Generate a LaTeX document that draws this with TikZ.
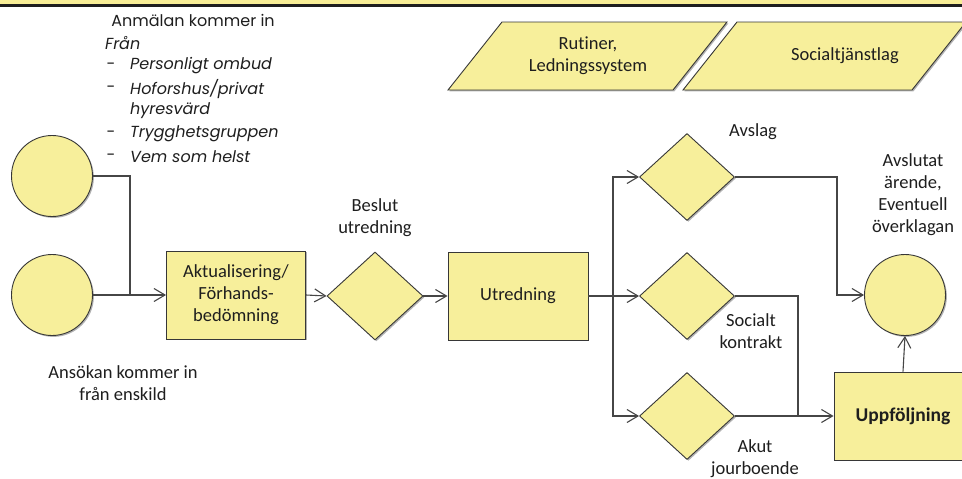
\documentclass[tikz,border=0pt]{standalone}
\usepackage{fontspec}
\setmainfont{Carlito}[Ligatures={NoCommon}]
\newfontfamily\geo{Poppins}
\usetikzlibrary{shapes.geometric,arrows.meta,shadows}
\definecolor{fillY}{RGB}{247,239,155}
\definecolor{edgeG}{RGB}{55,55,55}
\definecolor{lineG}{RGB}{70,70,70}
\definecolor{bandY}{RGB}{248,238,150}
\definecolor{bandD}{RGB}{30,30,30}
\definecolor{txt}{RGB}{30,30,30}

\begin{document}
\begin{tikzpicture}[x=1pt,y=-1pt,
  shp/.style={draw=edgeG, line width=0.9pt, fill=fillY,
    drop shadow={shadow xshift=1.4pt, shadow yshift=-1.4pt, opacity=0.3, fill=black}},
  roundel/.style={shp, circle, minimum size=81pt, inner sep=0pt},
  decision/.style={shp, diamond, minimum width=96pt, minimum height=88pt, inner sep=0pt},
  stepbox/.style={shp, rectangle, minimum width=139pt, minimum height=88pt,
    align=center, text=txt, font=\fontsize{18.5}{22}\selectfont},
  lbl/.style={align=center, text=txt, font=\fontsize{18.5}{22}\selectfont, inner sep=0pt},
  geotxt/.style={text=txt, font=\geo\fontsize{16}{22}\selectfont, inner sep=0pt},
  conn/.style={draw=lineG, line width=1.1pt},
  arr/.style={conn, -{Straight Barb[length=11pt, width=13pt]}}
]
\useasboundingbox (0,0) rectangle (962,479);
\clip (0,0) rectangle (962,479);
\fill[white] (0,0) rectangle (962,479);

% header band
\fill[bandY] (0,0) rectangle (962,3.5);
\fill[bandD] (0,3.5) rectangle (962,6.5);

% source text block
\node[geotxt] (anm) at (193,20) {Anmälan kommer in};
\node[geotxt, anchor=west] (fran) at (105,43) {\itshape Från};
\foreach \yy/\tt [count=\i] in {66/{Personligt ombud}, 89/{Hoforshus/privat}, 134/{Trygghetsgruppen}, 157/{Vem som helst}}{
  \node[geotxt] (dash\i) at (111,\yy) {-};
  \node[geotxt, anchor=west] (item\i) at (130,\yy) {\itshape \tt};
}
\node[geotxt, anchor=west] (item2b) at (130,111) {\itshape hyresvärd};

% guiding documents
\filldraw[shp] (502,22) -- (727,22) -- (673,90) -- (448,90) -- cycle;
\node[lbl] (rut) at (588,56) {Rutiner,\\Ledningssystem};
\filldraw[shp] (737,22) -- (966,22) -- (912,90) -- (683,90) -- cycle;
\node[lbl] (sol) at (845,56) {Socialtjänstlag};

% flow nodes
\node[roundel] (c1) at (52,176) {};
\node[roundel] (c2) at (52,295) {};
\node[lbl] (c2t) at (123,383) {Ansökan kommer in\\från enskild};

\node[stepbox] (akt) at (236,295) {Aktualisering/\\Förhands-\\bedömning};
\node[decision] (d1) at (375,296) {};
\node[lbl] (d1t) at (375,218) {Beslut\\utredning};
\node[stepbox, minimum width=140pt] (utr) at (518,296) {Utredning};

\node[decision, minimum width=95pt, minimum height=87pt] (dA) at (687,177) {};
\node[lbl] (dAt) at (753,132) {Avslag};
\node[decision, minimum width=95pt, minimum height=87pt] (dS) at (687,296) {};
\node[lbl] (dSt) at (751,331) {Socialt\\kontrakt};
\node[decision, minimum width=95pt, minimum height=87pt] (dJ) at (687,416) {};
\node[lbl] (dJt) at (755,459) {Akut\\jourboende};

\node[roundel] (cEnd) at (905,295) {};
\node[lbl] (cEndt) at (913,195) {Avslutat\\ärende,\\Eventuell\\överklagan};
\node[stepbox, minimum width=138pt, font=\bfseries\fontsize{19.5}{22}\selectfont] (upp) at (903,416) {Uppföljning};

% connectors
\coordinate (j1) at (130,295);
\coordinate (sp) at (613,296);
\coordinate (k1) at (837,295);
\coordinate (k2) at (798,416);

\draw[conn] (c1.east) -| (j1);
\draw[arr] (c2.east) -- (akt.west);
\draw[arr] (akt.east) -- (d1.west);
\draw[arr] (d1.east) -- (utr.west);
\draw[conn] (utr.east) -- (sp);
\draw[arr] (sp) |- (dA.west);
\draw[arr] (sp) -- (dS.west);
\draw[arr] (sp) |- (dJ.west);
\draw[arr] (dA.east) -| (k1) -- (cEnd.west);
\draw[conn] (dS.east) -| (k2);
\draw[arr] (dJ.east) -- (upp.west);
\draw[arr] (upp.north) -- (cEnd.south);
\end{tikzpicture}
\end{document}
